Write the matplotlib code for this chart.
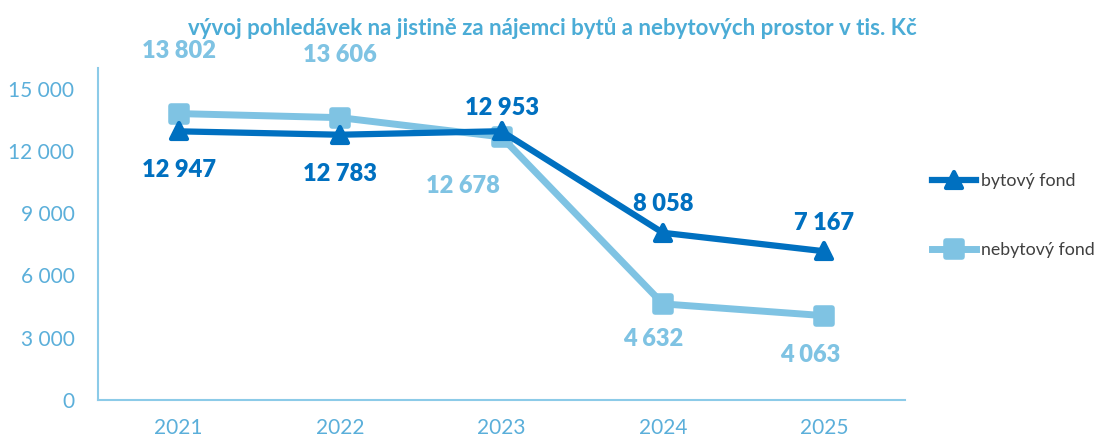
import numpy as np
import matplotlib.pyplot as plt
from matplotlib.lines import Line2D
from matplotlib.markers import MarkerStyle

plt.rcParams['font.family'] = ['Lato', 'DejaVu Sans']

years = ["2021", "2022", "2023", "2024", "2025"]
bytovy = [12947, 12783, 12953, 8058, 7167]
nebytovy = [13802, 13606, 12678, 4632, 4063]
yticks = [0, 3000, 6000, 9000, 12000, 15000]

dark = "#0070C0"
light = "#7FC3E3"
axis_col = "#5BAFDA"

tri = MarkerStyle("^", joinstyle="round")
sq = MarkerStyle("s", joinstyle="round")

fig = plt.figure(figsize=(11.05, 4.38), dpi=100)
ax = fig.add_axes([0.0887, 0.0868, 0.7303, 0.758])

x = np.arange(len(years))
ax.plot(x, bytovy, color=dark, lw=4.5, marker=tri, ms=12, mew=3, solid_capstyle="round",
        label="bytový fond", zorder=3)
ax.plot(x, nebytovy, color=light, lw=5, marker=sq, ms=12, mew=4, solid_capstyle="round",
        label="nebytový fond", zorder=2)

def fmt(v):
    return f"{v:,}".replace(",", " ")

# label offsets in points (dx, dy)
off_b = [(0, -28), (0, -28), (0, 17), (0, 21), (0, 20)]
off_n = [(0, 45), (0, 45), (-28, -35), (-7, -25), (-10, -28)]
for i in range(len(years)):
    ax.annotate(fmt(bytovy[i]), (x[i], bytovy[i]), xytext=off_b[i], textcoords="offset points",
                ha="center", va="center", fontsize=17, fontweight="heavy", color=dark)
    ax.annotate(fmt(nebytovy[i]), (x[i], nebytovy[i]), xytext=off_n[i], textcoords="offset points",
                ha="center", va="center", fontsize=17, fontweight="heavy", color=light)

ax.set_xlim(-0.5, len(years) - 0.5)
ax.set_ylim(0, 16000)
ax.set_xticks(x)
ax.set_xticklabels(years)
ax.set_yticks(yticks)
ax.set_yticklabels([fmt(v) for v in yticks])
ax.tick_params(axis="both", length=0, labelsize=15, labelcolor=axis_col)
ax.tick_params(axis="x", pad=13)
ax.tick_params(axis="y", pad=17)
for s in ["top", "right"]:
    ax.spines[s].set_visible(False)
for s in ["left", "bottom"]:
    ax.spines[s].set_color("#8CCBE8")
    ax.spines[s].set_linewidth(1.5)

leg = fig.legend(handles=[Line2D([], [], color=dark, lw=4.5, marker=tri, ms=11, mew=3),
                          Line2D([], [], color=light, lw=5, marker=sq, ms=11, mew=4)],
                 labels=["bytový fond", "nebytový fond"],
                 loc="upper left", bbox_to_anchor=(0.829, 0.642), frameon=False,
                 fontsize=12.8, handlelength=2.5, labelspacing=3.0, handletextpad=0.25)
for t in leg.get_texts():
    t.set_color("#404040")

fig.text(0.5, 0.936, "vývoj pohledávek na jistině za nájemci bytů a nebytových prostor v tis. Kč",
         ha="center", va="center", fontsize=16, fontweight="bold", color="#4BACD6")

fig.savefig("out.png", dpi=100)
